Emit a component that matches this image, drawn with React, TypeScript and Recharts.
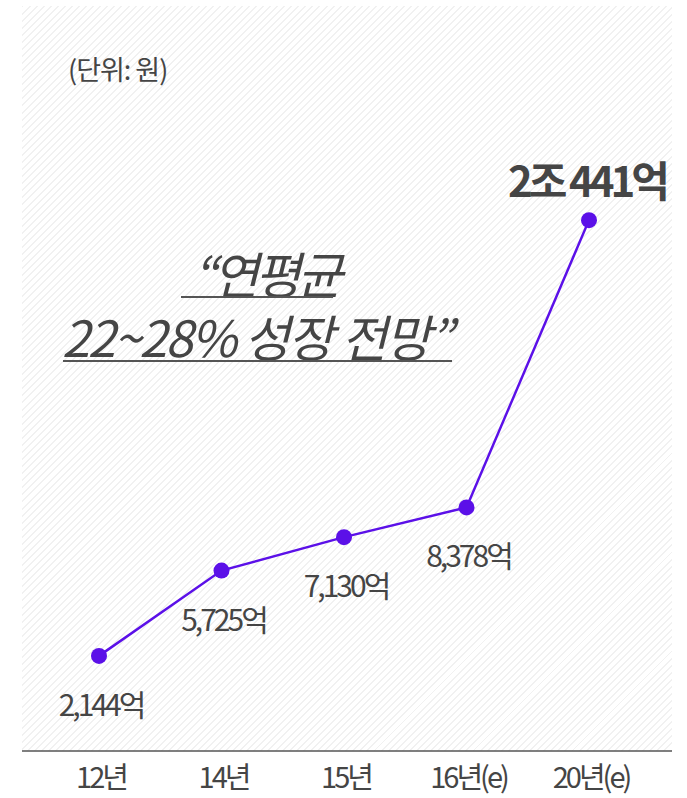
import { LineChart, Line, XAxis, YAxis, LabelList } from "recharts";

// 연도별 시장 규모 (단위: 억 원)
const years = ["12년", "14년", "15년", "16년(e)", "20년(e)"];
const marketSize = [2144, 5725, 7130, 8378, 20441];

const headlineTop = "“연평균";
const headlineBottom = "22~28% 성장 전망”";
const unitText = "(단위: 원)";

const FONT = "'Noto Sans CJK KR', 'Noto Sans', sans-serif";
const PURPLE = "#5b10e8";
const TEXT = "#454545";

const data = years.map((year, i) => ({ year, value: marketSize[i] }));

const formatWon = (v: number) =>
    v >= 10000 ? `${Math.floor(v / 10000)}조 ${v % 10000}억` : `${v.toLocaleString("en-US")}억`;

const ValueLabel = (props: any) => {
    const { x, y, value, index } = props;
    const last = index === marketSize.length - 1;
    if (last) {
        return (
            <text x={x - 2} y={y - 23} textAnchor="middle" fontFamily={FONT} fontSize={42}
                fontWeight={700} letterSpacing={-4} fill={TEXT}>
                {formatWon(value)}
            </text>
        );
    }
    return (
        <text x={x + 2} y={y + 60} textAnchor="middle" fontFamily={FONT} fontSize={30}
            letterSpacing={-3} fill={TEXT}>
            {formatWon(value)}
        </text>
    );
};

const YearTick = (props: any) => {
    const { x, y, payload } = props;
    return (
        <text x={x + 2} y={y + 29} textAnchor="middle" fontFamily={FONT} fontSize={29}
            letterSpacing={-3} fill={TEXT}>
            {payload.value}
        </text>
    );
};

export default function App() {
    return (
        <div style={{ position: "absolute", left: 0, top: 0, width: 687, height: 798, background: "#fff" }}>
            <div
                style={{
                    position: "absolute",
                    left: 22,
                    top: 6,
                    width: 650,
                    height: 745,
                    background:
                        "repeating-linear-gradient(135deg, #f1f1f1 0px, #f1f1f1 1.4px, transparent 1.4px, transparent 5px)",
                }}
            />
            <div style={{ position: "absolute", left: 0, top: 0 }}>
                <LineChart width={687} height={798} data={data}
                    margin={{ top: 183, right: 15, bottom: 7, left: 22 }}>
                    <XAxis dataKey="year" height={40} padding={{ left: 77, right: 83 }}
                        axisLine={{ stroke: "#555", strokeWidth: 1.5 }} tickLine={false}
                        tick={<YearTick />} interval={0} />
                    <YAxis hide domain={[-1850, 22000]} allowDataOverflow />
                    <Line type="linear" dataKey="value" stroke={PURPLE} strokeWidth={2.5}
                        dot={{ r: 8, fill: PURPLE, stroke: "none" }} activeDot={false}
                        isAnimationActive={false}>
                        <LabelList dataKey="value" content={<ValueLabel />} />
                    </Line>
                </LineChart>
            </div>
            <svg width={687} height={798} style={{ position: "absolute", left: 0, top: 0, pointerEvents: "none" }}>
                <text x={68} y={80} fontFamily={FONT} fontSize={27} letterSpacing={-1} fill={TEXT}>
                    {unitText}
                </text>
                <text x={193} y={294} fontFamily={FONT} fontSize={50} fontStyle="italic"
                    letterSpacing={-4} fill={TEXT}>
                    {headlineTop}
                </text>
                <line x1={181} x2={333} y1={297} y2={297} stroke="#555" strokeWidth={2} />
                <text x={62} y={357} fontFamily={FONT} fontSize={50} fontStyle="italic"
                    letterSpacing={-2} fill={TEXT}>
                    {headlineBottom}
                </text>
                <line x1={63} x2={452} y1={361} y2={361} stroke="#555" strokeWidth={2} />
            </svg>
        </div>
    );
}
